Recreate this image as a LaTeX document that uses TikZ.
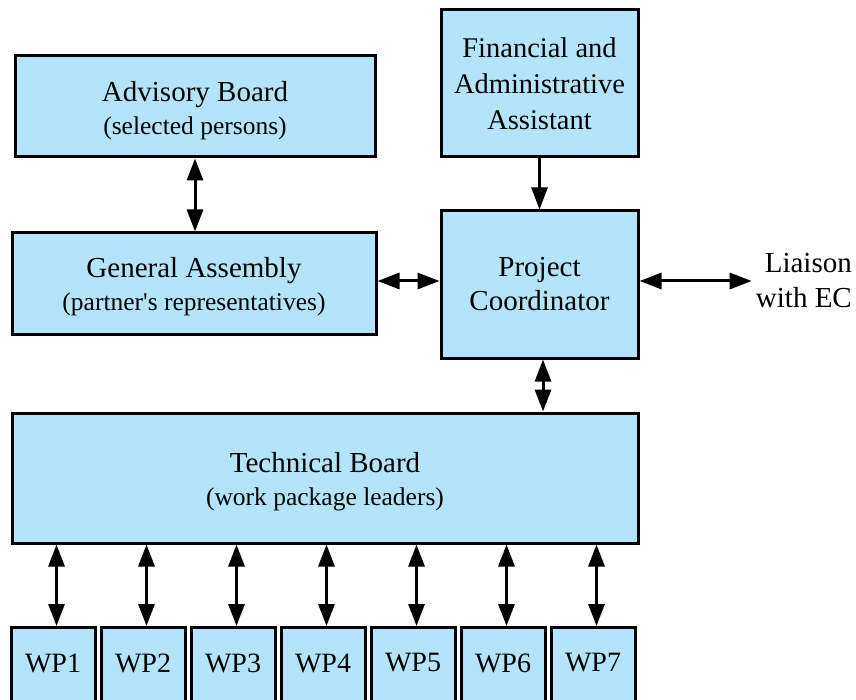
\documentclass[tikz,border=0pt]{standalone}
\usepackage{fontspec}
\setmainfont{Liberation Serif}
\usetikzlibrary{arrows.meta,positioning}
\definecolor{boxblue}{RGB}{180,228,252}
\tikzset{
  box/.style={draw=black, line width=3pt, fill=boxblue, align=center,
    inner sep=0pt, font=\fontsize{29}{36}\selectfont},
  label text/.style={align=center, inner sep=0pt, font=\fontsize{29}{36}\selectfont},
  tip/.tip={Triangle[length=22pt,width=16pt]},
  link/.style={line width=3pt, -tip},
  dbl/.style={line width=3pt, tip-tip}
}
\newcommand{\subline}[1]{{\fontsize{25.5}{30}\selectfont #1}}
\begin{document}
\begin{tikzpicture}[x=1pt,y=-1pt]
  \useasboundingbox (0,0) rectangle (856,700);
  \clip (0,0) rectangle (856,700);
  \fill[white] (0,0) rectangle (856,700);

  % upper boxes
  \node[box, minimum width=360pt, minimum height=101pt] (ab) at (195,106.5) {};
  \node[label text] (abtext) at ([yshift=-4]ab.center)
    {Advisory Board\\[-3pt]\subline{(selected persons)}};
  \node[box, minimum width=197pt, minimum height=147pt,
    font=\fontsize{28.5}{36}\selectfont] (faa) at (539.5,83.5)
    {Financial and\\Administrative\\Assistant};
  \node[box, minimum width=364pt, minimum height=101pt] (ga) at (194,283.5) {};
  \node[label text] (gatext) at ([yshift=-3.5]ga.center)
    {General Assembly\\[-3pt]\subline{(partner\textquotesingle s representatives)}};
  \node[box, minimum width=197pt, minimum height=147pt] (pc) at (539.5,284.5)
    {Project\\[-2pt]Coordinator};
  \node[label text, align=right, inner sep=4pt, anchor=east,
    font=\fontsize{29}{35}\selectfont] (ec) at (856,281)
    {Liaison\\with EC};

  % technical board
  \node[box, minimum width=626pt, minimum height=130pt] (tb) at (325,478) {};
  \node[label text] (tbtext) at ([yshift=-4]tb.center)
    {Technical Board\\[-3pt]\subline{(work package leaders)}};

  % work packages
  \foreach \i in {1,...,7}{
    \node[box, minimum width=84pt, minimum height=90pt, anchor=north] (wp\i)
      at ({53+90*(\i-1)},626) {};
    \node[font=\fontsize{28}{34}\selectfont, inner sep=0pt] (wp\i text)
      at ([yshift=-37]wp\i.north) {WP\i};
    \draw[dbl] ([xshift=3.5]wp\i.north |- tb.south) -- ([xshift=3.5]wp\i.north);
  }

  % connectors
  \draw[dbl] (ab.south) -- (ab.south |- ga.north);
  \draw[link] (faa.south) -- (pc.north);
  \draw[dbl] (ga.east |- ec.west) -- (pc.west |- ec.west);
  \draw[dbl] (pc.east |- ec.west) -- (ec.west);
  \draw[dbl] ([xshift=3.5]pc.south) -- ([xshift=3.5]pc.south |- tb.north);
\end{tikzpicture}
\end{document}
